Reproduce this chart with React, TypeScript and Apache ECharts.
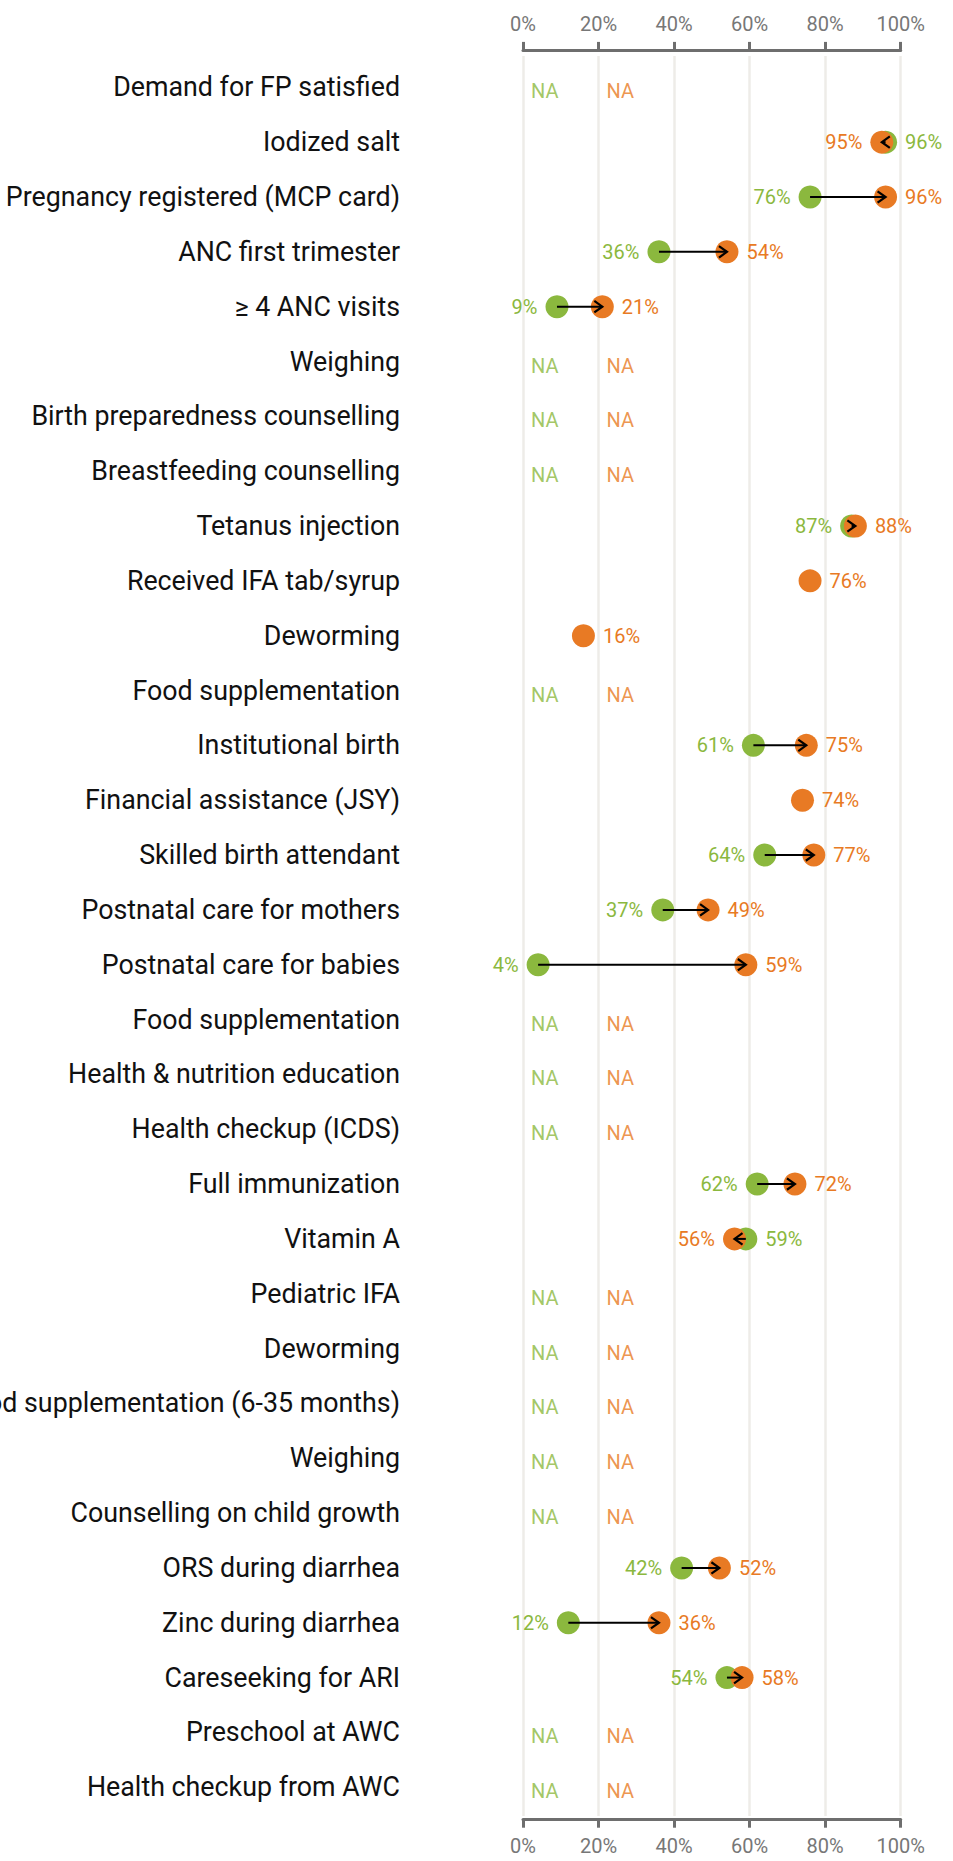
import React, { useEffect, useRef } from "react";
import * as echarts from "echarts";

const categories: string[] = [
  "Demand for FP satisfied",
  "Iodized salt",
  "Pregnancy registered (MCP card)",
  "ANC first trimester",
  "≥ 4 ANC visits",
  "Weighing",
  "Birth preparedness counselling",
  "Breastfeeding counselling",
  "Tetanus injection",
  "Received IFA tab/syrup",
  "Deworming",
  "Food supplementation",
  "Institutional birth",
  "Financial assistance (JSY)",
  "Skilled birth attendant",
  "Postnatal care for mothers",
  "Postnatal care for babies",
  "Food supplementation",
  "Health & nutrition education",
  "Health checkup (ICDS)",
  "Full immunization",
  "Vitamin A",
  "Pediatric IFA",
  "Deworming",
  "Food supplementation (6-35 months)",
  "Weighing",
  "Counselling on child growth",
  "ORS during diarrhea",
  "Zinc during diarrhea",
  "Careseeking for ARI",
  "Preschool at AWC",
  "Health checkup from AWC",
];

// earlier survey (green)
const greenValues: (number | null)[] = [
  null, 96, 76, 36, 9, null, null, null, 87, null, null, null, 61, null, 64, 37,
  4, null, null, null, 62, 59, null, null, null, null, null, 42, 12, 54, null, null,
];

// later survey (orange)
const orangeValues: (number | null)[] = [
  null, 95, 96, 54, 21, null, null, null, 88, 76, 16, null, 75, 74, 77, 49,
  59, null, null, null, 72, 56, null, null, null, null, null, 52, 36, 58, null, null,
];

const xTicks = { min: 0, max: 100, interval: 20 };
const NA_TEXT = "NA";
const NA_GREEN_AT = 0;
const NA_ORANGE_AT = 20;

const GREEN = "#8BB83E";
const ORANGE = "#E87A24";
const AXIS_GRAY = "#6e6e6e";
const LABEL_GRAY = "#777777";
const GRID_GRAY = "#eeece8";
const FONT = "Roboto";

export default function App() {
  const ref = useRef<HTMLDivElement>(null);

  useEffect(() => {
    if (!ref.current) return;
    const chart = echarts.init(ref.current, undefined, { renderer: "svg" });

    const greenData: any[] = [];
    const orangeData: any[] = [];
    const arrowData: any[] = [];
    const naGreen: any[] = [];
    const naOrange: any[] = [];

    categories.forEach((_, i) => {
      const g = greenValues[i];
      const o = orangeValues[i];
      if (g == null && o == null) {
        naGreen.push([NA_GREEN_AT, i]);
        naOrange.push([NA_ORANGE_AT, i]);
        return;
      }
      if (g != null) {
        const pos = o != null && g > o ? "right" : "left";
        greenData.push({ value: [g, i], label: { position: pos } });
      }
      if (o != null) {
        const pos = g != null && o < g ? "left" : "right";
        orangeData.push({ value: [o, i], label: { position: pos } });
      }
      if (g != null && o != null && g !== o) {
        arrowData.push([g, o, i]);
      }
    });

    const valueLabel = (color: string) => ({
      show: true,
      distance: 8,
      color,
      fontSize: 20,
      fontFamily: FONT,
      formatter: (p: any) => `${p.value[0]}%`,
    });

    const naLabel = (color: string) => ({
      show: true,
      position: "right",
      distance: 8,
      offset: [0, 4],
      color,
      fontSize: 20,
      fontFamily: FONT,
      formatter: () => NA_TEXT,
    });

    const dataTop = 59.9;
    const dataBottomPx = 1814.7;

    const option: any = {
      animation: false,
      textStyle: { fontFamily: FONT },
      grid: [
        {
          left: 523, right: 52.3, top: dataTop, bottom: 1861 - dataBottomPx,
          containLabel: false, outerBoundsMode: "none",
        },
        {
          left: 523, right: 52.3, top: 56, bottom: 1861 - 1816,
          containLabel: false, outerBoundsMode: "none",
        },
      ],
      xAxis: [
        {
          type: "value",
          gridIndex: 0,
          position: "top",
          offset: 10,
          ...xTicks,
          axisLine: { show: true, lineStyle: { color: AXIS_GRAY, width: 3 } },
          axisTick: { show: true, length: 8, lineStyle: { color: AXIS_GRAY, width: 3 } },
          axisLabel: { formatter: "{value}%", color: LABEL_GRAY, fontSize: 20, fontFamily: FONT, margin: 16 },
          splitLine: { show: false },
        },
        {
          type: "value",
          gridIndex: 0,
          position: "bottom",
          offset: 5,
          ...xTicks,
          axisLine: { show: true, lineStyle: { color: AXIS_GRAY, width: 3 } },
          axisTick: { show: true, length: 8, lineStyle: { color: AXIS_GRAY, width: 3 } },
          axisLabel: { formatter: "{value}%", color: LABEL_GRAY, fontSize: 20, fontFamily: FONT, margin: 16 },
          splitLine: { show: false },
        },
        {
          type: "value",
          gridIndex: 1,
          ...xTicks,
          axisLine: { show: false },
          axisTick: { show: false },
          axisLabel: { show: false },
          splitLine: { show: true, lineStyle: { color: GRID_GRAY, width: 2.5 } },
        },
      ],
      yAxis: [
        {
          type: "category",
          gridIndex: 0,
          inverse: true,
          data: categories,
          axisLine: { show: false },
          axisTick: { show: false },
          splitLine: { show: false },
          axisLabel: { color: "#111111", fontSize: 26.8, fontFamily: FONT, margin: 123, interval: 0 },
        },
        {
          type: "value",
          gridIndex: 1,
          show: false,
          min: 0,
          max: 1,
          splitLine: { show: false },
        },
      ],
      series: [
        {
          type: "scatter",
          name: "naGreen",
          xAxisIndex: 0,
          yAxisIndex: 0,
          symbolSize: 0,
          data: naGreen,
          label: naLabel(GREEN),
          z: 2,
        },
        {
          type: "scatter",
          name: "naOrange",
          xAxisIndex: 0,
          yAxisIndex: 0,
          symbolSize: 0,
          data: naOrange,
          label: naLabel(ORANGE),
          z: 2,
        },
        {
          type: "scatter",
          name: "green",
          xAxisIndex: 0,
          yAxisIndex: 0,
          symbolSize: 23,
          itemStyle: { color: GREEN, opacity: 1 },
          data: greenData,
          label: valueLabel(GREEN),
          z: 3,
        },
        {
          type: "scatter",
          name: "orange",
          xAxisIndex: 0,
          yAxisIndex: 0,
          symbolSize: 23,
          itemStyle: { color: ORANGE, opacity: 1 },
          data: orangeData,
          label: valueLabel(ORANGE),
          z: 4,
        },
        {
          type: "custom",
          name: "arrows",
          xAxisIndex: 0,
          yAxisIndex: 0,
          clip: false,
          z: 5,
          encode: { x: [0, 1], y: 2 },
          data: arrowData,
          renderItem: (params: any, api: any) => {
            const g = api.value(0);
            const o = api.value(1);
            const r = api.value(2);
            const p1 = api.coord([g, r]);
            const p2 = api.coord([o, r]);
            const dir = o > g ? 1 : -1;
            const len = 8;
            const half = 5.7;
            return {
              type: "group",
              children: [
                {
                  type: "line",
                  shape: { x1: p1[0], y1: p1[1], x2: p2[0], y2: p2[1] },
                  style: { stroke: "#000", lineWidth: 2 },
                },
                {
                  type: "polyline",
                  shape: {
                    points: [
                      [p2[0] - dir * len, p2[1] - half],
                      [p2[0], p2[1]],
                      [p2[0] - dir * len, p2[1] + half],
                    ],
                  },
                  style: { stroke: "#000", lineWidth: 2.2, fill: null },
                },
              ],
            };
          },
        },
      ],
    };

    chart.setOption(option);
    return () => chart.dispose();
  }, []);

  return (
    <div
      ref={ref}
      style={{ position: "absolute", left: 0, top: 0, width: 953, height: 1861, background: "#fff" }}
    />
  );
}
